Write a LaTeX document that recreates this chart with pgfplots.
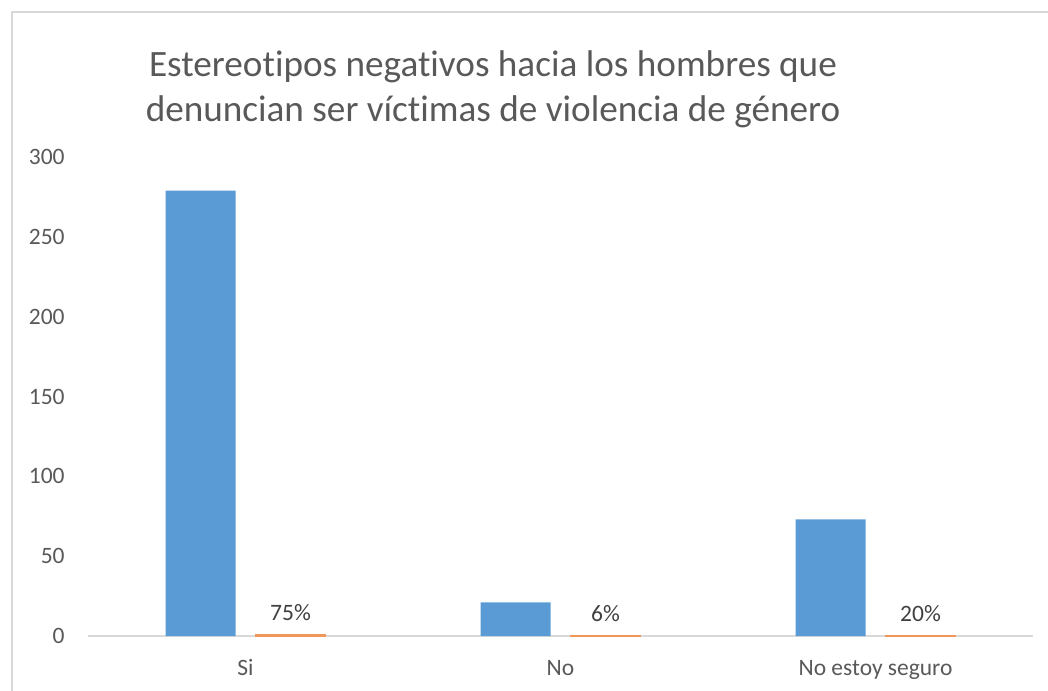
\documentclass[border=0pt]{standalone}
\usepackage{pgfplots}
\pgfplotsset{compat=1.18}
\usepackage{fontspec}
\setmainfont[Ligatures=NoCommon]{Carlito}
\definecolor{barblue}{HTML}{5B9BD5}
\definecolor{barorange}{HTML}{ED7D31}
\definecolor{txtgray}{HTML}{595959}
\definecolor{lblgray}{HTML}{404040}
\definecolor{linegray}{HTML}{D9D9D9}
\begin{document}
\begin{tikzpicture}
\path[use as bounding box] (0,0) rectangle (524pt,345pt);
% chart border (cut off at right and bottom as in the screenshot)
\draw[linegray, line width=1pt] (6pt,-10pt) -- (6pt,339pt) -- (540pt,339pt);
% title
\node[anchor=base, text=txtgray, inner sep=0pt, font=\fontsize{18.6}{22.5}\selectfont]
  at (246.5pt,306.5pt) {Estereotipos negativos hacia los hombres que};
\node[anchor=base, text=txtgray, inner sep=0pt, font=\fontsize{18.6}{22.5}\selectfont]
  at (246.5pt,284pt) {denuncian ser víctimas de violencia de género};
\begin{axis}[
    at={(44pt,27pt)}, anchor=south west,
    scale only axis,
    width=472.5pt, height=239.5pt,
    ybar, bar width=35pt,
    xmin=-0.5, xmax=2.5,
    ymin=0, ymax=300,
    ytick={0,50,...,300},
    xtick={0,1,2},
    xticklabels={Si,No,No estoy seguro},
    axis line style={draw=none},
    major tick length=0pt,
    tick style={draw=none},
    ticklabel style={font=\fontsize{11.75}{14}\selectfont, text=txtgray},
    yticklabel style={anchor=east, inner sep=0pt, xshift=-11.5pt},
    xticklabel style={anchor=base, inner sep=0pt, yshift=-19.5pt},
    /pgf/number format/assume math mode=true,
    clip=false,
  ]
  \draw[linegray, line width=1pt] (rel axis cs:0,0) -- (rel axis cs:1,0);
  \addplot[fill=barblue, draw=none, bar shift=-22.5pt]
    coordinates {(0,279) (1,21) (2,73)};
  \addplot[fill=barorange!80, draw=barorange!80, line width=0.6pt, bar shift=22.5pt,
    point meta=explicit symbolic,
    nodes near coords,
    every node near coord/.append style={anchor=base, yshift=7pt,
      font=\fontsize{11.75}{14}\selectfont, text=lblgray}]
    coordinates {(0,0.75)[75\%] (1,0.06)[6\%] (2,0.20)[20\%]};
\end{axis}
\end{tikzpicture}
\end{document}
